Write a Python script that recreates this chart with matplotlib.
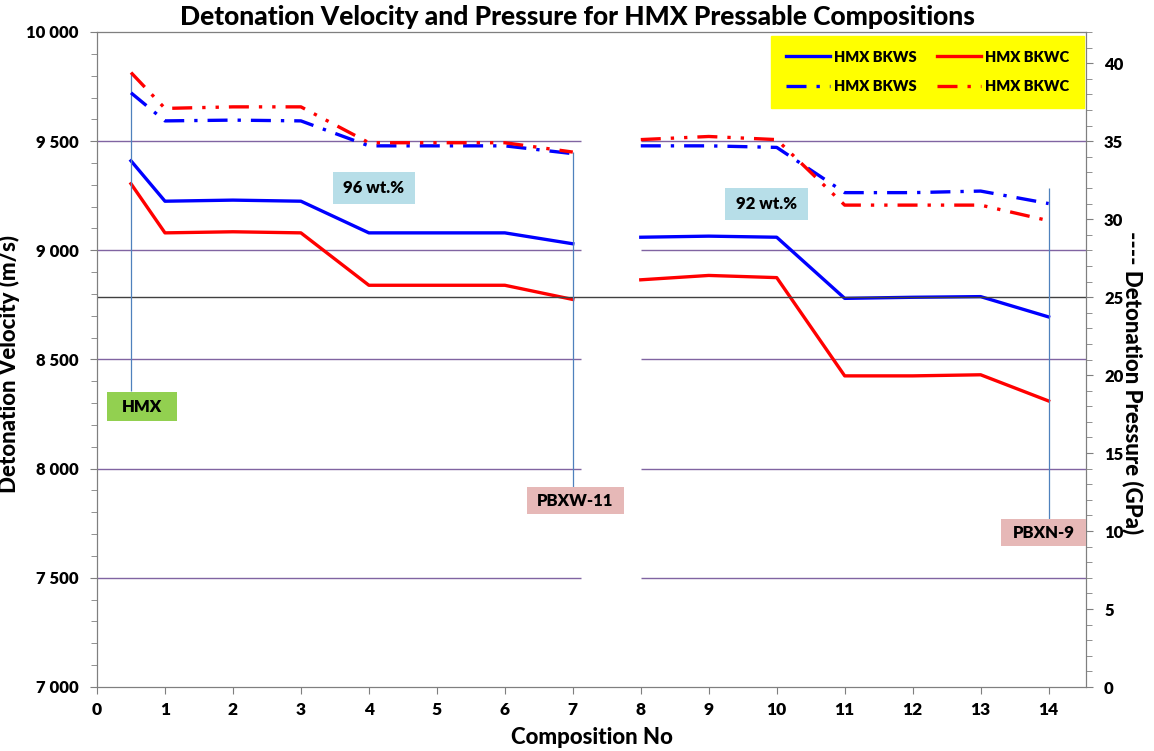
import matplotlib
matplotlib.use("Agg")
import matplotlib.pyplot as plt
from matplotlib.ticker import MultipleLocator, FuncFormatter
from matplotlib.lines import Line2D

# ---- data ----
x_a = [0.5, 1, 2, 3, 4, 5, 6, 7]
x_b = [8, 9, 10, 11, 12, 13, 14]

vel_bkws_a = [9410, 9225, 9230, 9225, 9080, 9080, 9080, 9030]
vel_bkws_b = [9060, 9065, 9060, 8780, 8785, 8788, 8695]
vel_bkwc_a = [9305, 9080, 9085, 9080, 8840, 8840, 8840, 8775]
vel_bkwc_b = [8865, 8885, 8875, 8425, 8425, 8430, 8310]

p_bkws_a = [38.1, 36.3, 36.35, 36.3, 34.7, 34.7, 34.7, 34.2]
p_bkws_b = [34.7, 34.7, 34.6, 31.7, 31.7, 31.8, 31.0]
p_bkwc_a = [39.4, 37.1, 37.2, 37.2, 34.9, 34.9, 34.9, 34.3]
p_bkwc_b = [35.1, 35.3, 35.1, 30.9, 30.9, 30.9, 29.9]

x_ticks = list(range(0, 15))
vel_ticks = [7000, 7500, 8000, 8500, 9000, 9500, 10000]
p_ticks = [0, 5, 10, 15, 20, 25, 30, 35, 40]

FONT = "Lato"
W = 800
plt.rcParams['font.family'] = [FONT, 'DejaVu Sans']
plt.rcParams['font.weight'] = W

fig = plt.figure(figsize=(11.54, 7.51), dpi=100)
ax = fig.add_axes([97/1154, 1-687/751, (1086-97)/1154, (687-32)/751])
ax2 = ax.twinx()

ax.set_xlim(0, 14.55)
ax.set_ylim(7000, 10000)
ax2.set_ylim(0, 42)

grid_c = '#8064A2'
for v in [7500, 8000, 8500, 9000, 9500]:
    ax.hlines(v, 0, 7.12, color=grid_c, lw=1.0, zorder=1)
    ax.hlines(v, 8.0, 14.55, color=grid_c, lw=1.0, zorder=1)
ax2.axhline(25, color='#404040', lw=1.0, zorder=1)

blue = '#0000FF'
red = '#FF0000'
lw = 2.4
ax.plot(x_a, vel_bkws_a, color=blue, lw=lw, zorder=3)
ax.plot(x_b, vel_bkws_b, color=blue, lw=lw, zorder=3)
ax.plot(x_a, vel_bkwc_a, color=red, lw=lw, zorder=3)
ax.plot(x_b, vel_bkwc_b, color=red, lw=lw, zorder=3)

dd = (0, (6, 3, 1, 3))
ddd = (0, (6, 3, 1, 3, 1, 3))
ax2.plot(x_a, p_bkws_a, color=blue, lw=lw, ls=dd, zorder=3)
ax2.plot(x_b, p_bkws_b, color=blue, lw=lw, ls=dd, zorder=3)
ax2.plot(x_a, p_bkwc_a, color=red, lw=lw, ls=ddd, zorder=4)
ax2.plot(x_b, p_bkwc_b, color=red, lw=lw, ls=ddd, zorder=4)

# vertical marker lines
vl = '#4F81BD'
ax2.vlines(0.5, 19.0, p_bkwc_a[0], color=vl, lw=0.9, zorder=2)
ax2.vlines(7, 11.8, p_bkwc_a[-1], color=vl, lw=0.9, zorder=2)
ax2.vlines(14, 9.5, 32.0, color=vl, lw=0.9, zorder=2)

# ticks / spines
ax.set_xticks(x_ticks)
ax.set_yticks(vel_ticks)
ax.yaxis.set_minor_locator(MultipleLocator(100))
ax2.set_yticks(p_ticks)
ax2.yaxis.set_minor_locator(MultipleLocator(1))
ax.yaxis.set_major_formatter(FuncFormatter(lambda v, p: f"{int(v):,}".replace(",", " ")))
for a in (ax, ax2):
    a.tick_params(which='both', direction='out', color='#7f7f7f', labelsize=12)
    for s in a.spines.values():
        s.set_color('#7f7f7f')
ax.tick_params(axis='x', labelsize=12.5, length=5, pad=6)
ax.tick_params(axis='y', which='major', length=5, pad=8)
ax.tick_params(axis='y', which='minor', length=4)
ax2.tick_params(axis='y', which='major', length=5, pad=8)
ax2.tick_params(axis='y', which='minor', length=4)
ax.spines['top'].set_color('#404040')

ax.set_xlabel("Composition No", fontsize=16, fontweight=900, labelpad=6)
ax.set_ylabel("Detonation Velocity (m/s)", fontsize=16, fontweight=900)
ax.yaxis.set_label_coords((20 - 97) / 989, (687 - 364) / 655)
ax2.set_ylabel("---- Detonation Pressure (GPa)", fontsize=16, fontweight=900,
               rotation=270, va='center')
ax2.yaxis.set_label_coords((1133 - 97) / 989, (687 - 383) / 655)
fig.text(0.5, 1-17/751, "Detonation Velocity and Pressure for HMX Pressable Compositions",
         ha='center', va='center', fontsize=19, fontweight=900,
         bbox=dict(facecolor='white', edgecolor='none', pad=1))

def box(x0, y0, x1, y1, text, fc):
    fx0, fx1 = x0/1154, x1/1154
    fy0, fy1 = 1-y1/751, 1-y0/751
    fig.patches.append(plt.Rectangle((fx0, fy0), fx1-fx0, fy1-fy0, transform=fig.transFigure,
                                     facecolor=fc, edgecolor='none', zorder=5))
    fig.text((fx0+fx1)/2, (fy0+fy1)/2, text, ha='center', va='center', fontsize=12,
             fontweight=W, zorder=6)

box(107, 392, 177, 421, "HMX", '#92D050')
box(333, 172, 415, 204, "96 wt.%", '#B7DEE8')
box(725, 188, 808, 220, "92 wt.%", '#B7DEE8')
box(527, 487, 624, 514, "PBXW-11", '#E6B8B7')
box(1001, 519, 1086, 546, "PBXN-9", '#E6B8B7')

handles = [
    Line2D([], [], color=blue, lw=lw),
    Line2D([], [], color=blue, lw=lw, ls=dd),
    Line2D([], [], color=red, lw=lw),
    Line2D([], [], color=red, lw=lw, ls=ddd),
]
labels = ["HMX BKWS", "HMX BKWS", "HMX BKWC", "HMX BKWC"]
leg = ax.legend(handles, labels, ncol=2, loc='upper right',
                bbox_to_anchor=(1084/1154, 1-36/751), bbox_transform=fig.transFigure,
                borderaxespad=0,
                frameon=True, fancybox=False, facecolor='#FFFF00', edgecolor='#FFFF00',
                framealpha=1, prop={'family': FONT, 'weight': W, 'size': 10.5},
                handlelength=3.0, columnspacing=1.4, labelspacing=1.15, borderpad=1.0,
                handletextpad=0.3)
leg.set_zorder(10)

fig.savefig("out.png", dpi=100)
